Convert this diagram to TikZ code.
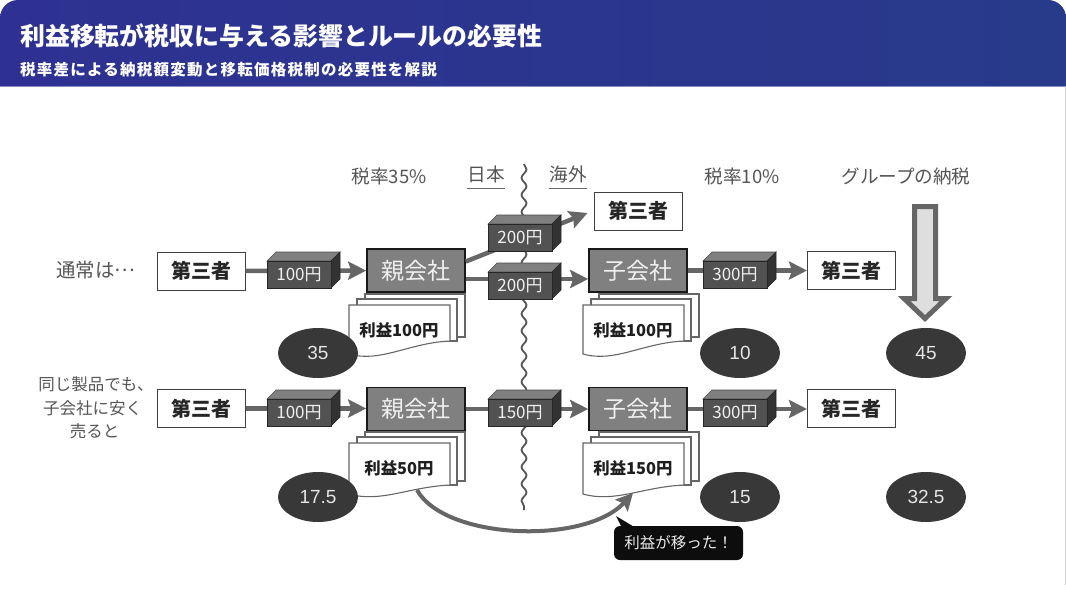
\documentclass[tikz,border=0pt]{standalone}
\usepackage{fontspec}
\usetikzlibrary{arrows.meta,decorations.pathmorphing,shapes.geometric,calc}
\setmainfont{Noto Sans CJK JP}
\newfontfamily\jp{Noto Sans CJK JP}
\newfontfamily\jpsp[LetterSpace=8]{Noto Sans CJK JP}
\newfontfamily\lat{Liberation Sans}
\definecolor{gline}{HTML}{666666}
\definecolor{gtext}{HTML}{555555}
\definecolor{hdL}{HTML}{2E3192}
\definecolor{hdR}{HTML}{283A8A}
\tikzset{
  flow/.style={draw=gline,line width=4.5pt,-{Stealth[length=18pt,width=18pt,inset=3pt]}},
  third/.style={draw=black!75,line width=1pt,fill=white,minimum width=88pt,minimum height=38pt,inner sep=0pt,font=\jp\bfseries\fontsize{20}{21}\selectfont,text=black!85},
  company/.style={draw=black!90,line width=1.6pt,fill=black!50,minimum width=98pt,minimum height=43pt,inner sep=0pt,font=\jp\fontsize{23}{24}\selectfont,text=black!6},
  oval/.style={ellipse,fill=black!78,minimum width=80pt,minimum height=50pt,inner sep=0pt,font=\lat\fontsize{19}{20}\selectfont,text=black!10},
  heading/.style={font=\jp\fontsize{18.6}{20}\selectfont,text=gtext,inner sep=0pt},
  side/.style={font=\jp\fontsize{16.5}{18}\selectfont,text=gtext,inner sep=0pt},
  sheet/.style={draw=gline,line width=1.1pt,fill=white},
  doclabel/.style={font=\jp\bfseries\fontsize{16.4}{18}\selectfont,text=black!88,inner sep=0pt},
  cubelabel/.style={font=\jp\fontsize{17}{18}\selectfont,text=black!6,inner sep=0pt},
  top/.style={fill=black!50,draw=black!70,line width=.6pt},
  rightf/.style={fill=black!80,draw=black!85,line width=.6pt},
  front/.style={fill=black!68,draw=black!85,line width=.6pt,minimum width=64pt,minimum height=27pt,inner sep=0pt}
}
% #1 name, #2 left x, #3 top y of front face, #4 label
\newcommand{\cube}[4]{%
  \fill[top] (#2,#3) -- ++(9,-9) -- ++(64,0) -- ++(-9,9) -- cycle;
  \fill[rightf] (#2+64,#3) -- ++(9,-9) -- ++(0,27) -- ++(-9,9) -- cycle;
  \node[front,anchor=north west] (#1) at (#2,#3) {};
  \node[cubelabel] (#1t) at (#2+32,#3+13.5) {#4};
}
% #1 front sheet left x, #2 front top y, #3 right bottom offset, #4 left bottom offset, #5 name, #6 label
\newcommand{\docs}[6]{%
  \draw[sheet] (#1+16,#2-11) rectangle ++(100,#3+7);
  \draw[sheet] (#1+8,#2-6) rectangle ++(100,#3+6);
  \draw[sheet] (#1,#2) -- ++(101,0) -- ++(0,#3) .. controls +(-42,2) and +(32,9) .. (#1,#2+#4) -- cycle;
  \node[doclabel] (#5) at (#1+50,#2+25) {#6};
}
\begin{document}
\begin{tikzpicture}[x=1pt,y=-1pt]
\useasboundingbox (0,0) rectangle (1066,600);
\fill[white] (0,0) rectangle (1066,600);
\draw[black!18,line width=1pt] (1065.5,86) -- (1065.5,585);
% header
\shade[left color=hdL,right color=hdR]
  (0,86) [rounded corners=18pt] -- (0,0) -- (1066,0) [sharp corners] -- (1066,86) -- cycle;
\draw[hdL!55,line width=1pt] (0,86.5) -- (1066,86.5);
\node[anchor=west,inner sep=0pt,text=white,font=\jp\bfseries\fontsize{24.9}{26}\selectfont] (title) at (20,35.5) {利益移転が税収に与える影響とルールの必要性};
\node[anchor=west,inner sep=0pt,text=white,font=\jpsp\bfseries\fontsize{15.5}{17}\selectfont] (subtitle) at (20,69.5) {税率差による納税額変動と移転価格税制の必要性を解説};
% column heads
\node[heading] (h1) at (389,176) {税率35\%};
\node[heading] (h2) at (486.5,174) {日本};
\node[heading] (h3) at (568,174) {海外};
\node[heading] (h4) at (742,176) {税率10\%};
\node[heading] (h5) at (906,176) {グループの納税};
\coordinate (u1a) at (467,188); \coordinate (u1b) at (505,188);
\coordinate (u2a) at (549,188); \coordinate (u2b) at (587,188);
\draw[gline,line width=1pt] (u1a) -- (u1b);
\draw[gline,line width=1pt] (u2a) -- (u2b);
% border line
\coordinate (wa) at (524,164); \coordinate (wb) at (524,510);
\draw[gtext,line width=1.8pt,decorate,decoration={snake,amplitude=2.5pt,segment length=17pt}] (wa) -- (wb);
% left text
\node[side,font=\jp\fontsize{19.5}{21}\selectfont] (n1) at (96,270) {通常は\raisebox{.32em}{…}};
\node[side] (n2) at (96,384) {同じ製品でも、};
\node[side] (n3) at (92.5,408) {子会社に安く};
\node[side] (n4) at (94.5,431) {売ると};
% nodes row 1
\node[third] (a1) at (201,271) {第三者};
\node[company] (p1) at (416,270.5) {親会社};
\node[company] (c1) at (638,270.5) {子会社};
\node[third] (z1) at (851.5,270.5) {第三者};
\node[third] (t1) at (638,211) {第三者};
% nodes row 2
\node[third] (a2) at (201,408.5) {第三者};
\node[company] (p2) at (416,409) {親会社};
\node[company] (c2) at (638,409) {子会社};
\node[third] (z2) at (851.5,408.5) {第三者};
% flows
\coordinate (f1) at ($(p1.east)+(0,8.5)$);
\coordinate (f2) at ($(c1.west)+(0,8.5)$);
\coordinate (f3) at ($(p1.east)+(0,-9)$);
\coordinate (f4) at ($(t1.west)+(-6,2)$);
\draw[flow] (a1) -- (p1);
\draw[flow] (f1) -- (f2);
\draw[flow] (f3) -- (f4);
\draw[flow] (c1) -- (z1);
\draw[flow] (a2.east) -- (a2.east -| p2.west);
\draw[flow] (p2) -- (c2);
\draw[flow] (c2) -- (z2.west |- c2);
% cubes
\cube{m1}{267}{261}{100円}
\cube{m2}{488}{224}{200円}
\cube{m3}{488}{272}{200円}
\cube{m4}{703}{261}{300円}
\cube{m5}{267}{399}{100円}
\cube{m6}{488}{399}{150円}
\cube{m7}{703}{399}{300円}
% documents
\docs{349}{305}{36}{49}{d1}{利益100円}
\docs{583}{305}{36}{49}{d2}{利益100円}
\docs{349}{443}{42}{51}{d3}{利益50円}
\docs{583}{443}{42}{51}{d4}{利益150円}
% ovals
\node[oval] (o1) at (318,353) {35};
\node[oval] (o2) at (740,353) {10};
\node[oval] (o3) at (926,353) {45};
\node[oval] (o4) at (318,497) {17.5};
\node[oval] (o5) at (740,497) {15};
\node[oval] (o6) at (926,497) {32.5};
% big arrow
\draw[draw=gline,fill=black!13,line width=5pt,miter limit=10]
  (914.5,206.5) -- (935.5,206.5) -- (935.5,298.5) -- (946,298.5) -- (925,318.5) -- (904,298.5) -- (914.5,298.5) -- cycle;
% transfer curve
\coordinate (ca) at (417,490);
\coordinate (cb) at (633,493);
\draw[gline,line width=4pt,-{Stealth[length=17pt,width=17pt,inset=3pt]}] (ca) .. controls (445,540) and (585,545) .. (cb);
% callout
\fill[black!95,rounded corners=6pt] (614,526) rectangle (743,560);
\fill[black!95] (622,528) -- (616,516) -- (636,528) -- cycle;
\node[inner sep=0pt,text=black!8,font=\jp\fontsize{15.5}{17}\selectfont] (call) at (678.5,543) {利益が移った！};
\end{tikzpicture}
\end{document}
